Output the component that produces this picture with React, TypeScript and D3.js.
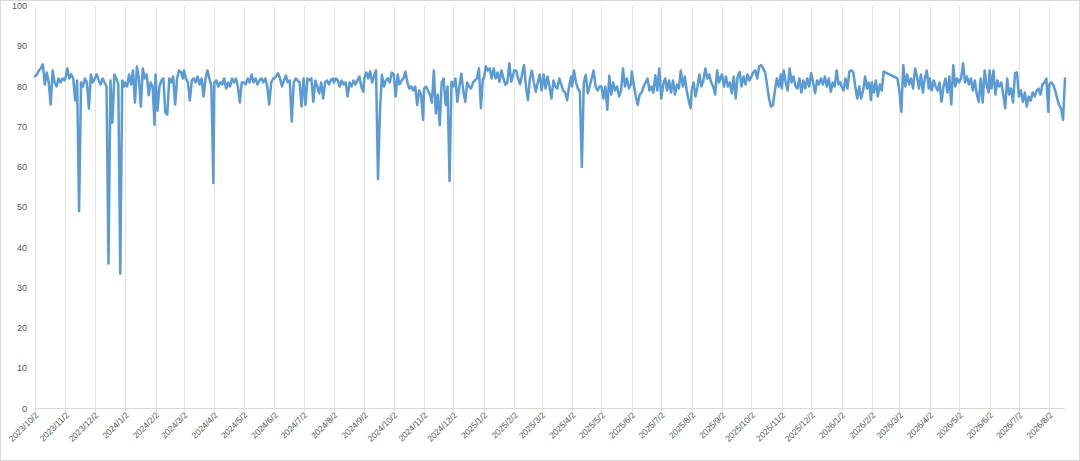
import React from "react";
import * as d3 from "d3";

// Month start dates (gridlines / tick labels) — each month's values are sampled every 2 days from this date
const monthStarts = [
  "2023-10-02","2023-11-02","2023-12-02","2024-01-02","2024-02-02","2024-03-02","2024-04-02","2024-05-02",
  "2024-06-02","2024-07-02","2024-08-02","2024-09-02","2024-10-02","2024-11-02","2024-12-02","2025-01-02",
  "2025-02-02","2025-03-02","2025-04-02","2025-05-02","2025-06-02","2025-07-02","2025-08-02","2025-09-02",
  "2025-10-02","2025-11-02","2025-12-02","2026-01-02","2026-02-02","2026-03-02","2026-04-02","2026-05-02",
  "2026-06-02","2026-07-02","2026-08-02",
];
const axisEnd = "2026-08-18";

const yTicks = [0, 10, 20, 30, 40, 50, 60, 70, 80, 90, 100];

const oct2023 = [82.5,83,84,84.5,85.5,80.5,83.5,81,75.5,84,81,80,82,81,82,81.5];
const nov2023 = [82,84.5,82,83,82,76.5,81.5,49,81,80,82,81,74.5,83,81];
const dec2023 = [82,83,81.5,80.5,82,81,80,36,81.5,71,83,82,80.5,33.5,81.5,80];
const jan2024 = [81,80,83,80.5,84,76,85,82,75,84.5,82,83,77.8,81,80,70.5];
const feb2024 = [83,74,80,81.5,82,73.5,73,82,81,82.5,75.5,82,84,83.5,82];
const mar2024 = [84,82,81,76.5,81.5,82,81,82.5,80.5,82,77.5,82,84,82,80,56];
const apr2024 = [81,81.5,80,81,80.5,82,79.5,81,80,82,81,82,80,76,81];
const may2024 = [81,80.5,82,81,83,81,82,80.5,81.5,82,81,82,80,75.5,81,82];
const jun2024 = [82,82.5,83.3,82,80,81.5,82.7,81,81.5,71.3,81,82,81.5,81,75];
const jul2024 = [82,75.4,82,81.5,82,76.2,81.5,80,78.3,81,77,81,81.5,80.5,81.6,82];
const aug2024 = [81,82,81.5,80,81.5,80.5,81,77.5,81,80,81.5,80.5,81.5,82.5,80,78.7];
const sep2024 = [82,83.5,82,83.8,81,82.5,84,57,74,82.9,80,81.5,82,81,83.5];
const oct2024 = [83,77.5,83,80.5,81.5,82,83.7,81,79.5,80,79,80,75.4,79,78,71.7];
const nov2024 = [79.5,80,79,78,76,84,73.3,78,70.4,81,82,75.4,80,56.5,81.2];
const dec2024 = [80,82,76.2,80,83.2,79,76.2,81,80,79.5,81,81.5,82,84.5,74.6,82];
const jan2025 = [82,85,84,84.5,82,84.5,82,83.5,81.2,84,82,80.4,81,85.8,81.2,83];
const feb2025 = [84,84,82,80.5,83,85.3,80,76.6,82,84,81,78.7,81,83];
const mar2025 = [79,83,79.5,82.5,80,77,81.5,80,79.5,82,80.5,79,78.5,76.6,80,82.5];
const apr2025 = [80,84,81,79.5,78.7,60,81,82.9,78.3,80,82,84,80,79,80];
const may2025 = [80,77,80,74.2,82.7,78,81,79,80,77.5,79,84.5,80,82,79.5,80.5];
const jun2025 = [83.7,80.5,77.5,75.4,78,78.5,80,81,82,79,80,78.5,82.8,79,84.5];
const jul2025 = [77,80.5,82,79,81.5,78.5,81.5,78,80.5,79.5,84,80,82.5,79,76.5,74.6];
const aug2025 = [79,81,77.5,80,83,80,81.5,84.5,82,83,81,80,78,84,81,82.5];
const sep2025 = [83,80,82.5,80,81,78.3,82.5,77,82.5,83.6,80,82.5,80.5,83,81.5];
const oct2025 = [82.5,83.5,84,82,85,85.3,84.5,83.5,80.4,77,75,75.4,79,82,80,83];
const nov2025 = [79.5,84,81,79,84.5,81,82.5,80,79.5,82,78.5,81.5,79.5,82,80];
const dec2025 = [83.3,81,78.3,81.5,80.5,82,80.5,82.5,80,82,78.7,81,80,84,80.5,81];
const jan2026 = [80,79,82,79.5,83.7,84,83.5,80,77,80,77,79,82.5,79.5,81,76.6];
const feb2026 = [81,78.5,81.5,77.5,80.5,79,83.7,null,null,null,null,null,null,82];
const mar2026 = [79,73.7,85.3,80,83,80.5,82,79.5,84.5,82.5,79.5,83,78.5,82,84,79.5];
const apr2026 = [82,79,81.5,80,79,81,76.2,80,82,78.5,82.5,75.5,85.3,80,82];
const may2026 = [81,82,85.8,81,82.5,80.5,82,79,81.5,78,76.2,82,76,84,80.5,78.5];
const jun2026 = [84,79.5,84,78,81.5,80,81,78,74.6,82,78,79.5,76,83.3,83.5];
const jul2026 = [77.5,79,76.2,78.5,75,77.5,76.5,78.5,77.5,79,79.5,78,80.5,81,82,73.7];
const aug2026 = [80.5,81,80.4,79,77,75.4,74.5,71.7,82];

const monthValues: (number | null)[][] = [
  oct2023, nov2023, dec2023, jan2024, feb2024, mar2024, apr2024, may2024, jun2024, jul2024, aug2024, sep2024,
  oct2024, nov2024, dec2024, jan2025, feb2025, mar2025, apr2025, may2025, jun2025, jul2025, aug2025, sep2025,
  oct2025, nov2025, dec2025, jan2026, feb2026, mar2026, apr2026, may2026, jun2026, jul2026, aug2026,
];

const W = 1080;
const H = 461;
const LABEL = "#595959";
const FONT = "'Liberation Sans', Arial, sans-serif";

export default function App() {
  const parse = d3.utcParse("%Y-%m-%d");
  const fmt = d3.utcFormat("%Y/%-m/%-d");
  const ticks = monthStarts.map((s) => parse(s)!);

  type Pt = { date: Date; v: number };
  const data: Pt[] = [];
  monthStarts.forEach((s, m) => {
    const base = parse(s)!;
    monthValues[m].forEach((v, i) => {
      if (v != null) data.push({ date: d3.utcDay.offset(base, 2 * i), v });
    });
  });

  const x = d3.scaleUtc().domain([ticks[0], parse(axisEnd)!]).range([35, 1065]);
  const y = d3.scaleLinear().domain([0, 100]).range([408.5, 6]);

  const line = d3
    .line<Pt>()
    .x((d) => x(d.date))
    .y((d) => y(d.v));

  return (
    <svg
      width={W}
      height={H}
      style={{ position: "fixed", left: 0, top: 0, background: "#fff" }}
      fontFamily={FONT}
    >
      <rect x={0} y={0} width={W} height={H} fill="#fff" />
      <rect x={0.5} y={0.5} width={W - 1} height={H - 1} fill="none" stroke="#d9d9d9" />
      {ticks.map((t, i) => (
        <line
          key={"g" + i}
          x1={Math.round(x(t)) + 0.5}
          x2={Math.round(x(t)) + 0.5}
          y1={y(100)}
          y2={y(0)}
          stroke="#e4e4e4"
          strokeWidth={1}
        />
      ))}
      <line x1={x.range()[0]} x2={x.range()[1]} y1={y(0)} y2={y(0)} stroke="#d9d9d9" strokeWidth={1} />
      {ticks.map((t, i) => (
        <line
          key={"t" + i}
          x1={Math.round(x(t)) + 0.5}
          x2={Math.round(x(t)) + 0.5}
          y1={y(0)}
          y2={y(0) + 3}
          stroke="#d9d9d9"
        />
      ))}
      {yTicks.map((v) => (
        <text
          key={"y" + v}
          x={27}
          y={y(v)}
          textAnchor="end"
          dominantBaseline="central"
          fontSize={9}
          fill={LABEL}
        >
          {v}
        </text>
      ))}
      {ticks.map((t, i) => (
        <text
          key={"x" + i}
          transform={`translate(${x(t) + 2},${413.5}) rotate(-45)`}
          textAnchor="end"
          dominantBaseline="central"
          fontSize={8.5}
          fill={LABEL}
        >
          {fmt(t)}
        </text>
      ))}
      <path
        d={line(data) || ""}
        fill="none"
        stroke="#5B9BD5"
        strokeWidth={2.5}
        strokeLinejoin="round"
        strokeLinecap="round"
      />
    </svg>
  );
}
